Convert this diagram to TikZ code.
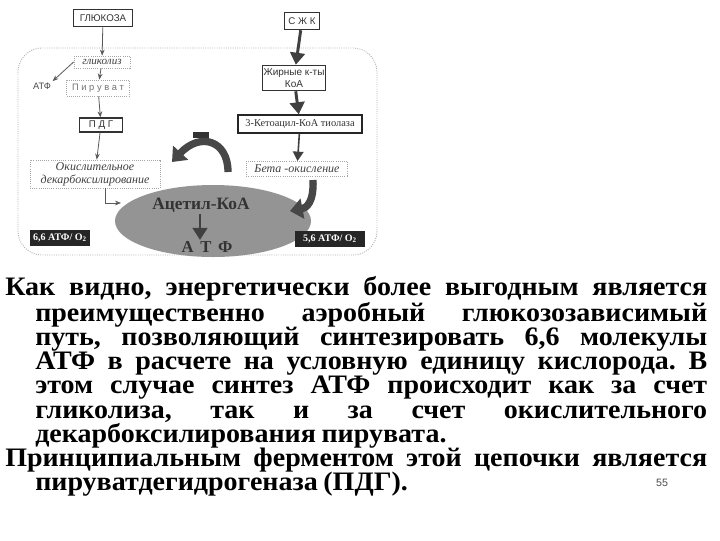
\documentclass[tikz,border=0pt]{standalone}
\usepackage{fontspec}
\setmainfont{Liberation Serif}
\setsansfont{Liberation Sans}
\newfontfamily\parfont[FakeStretch=1.05,WordSpace={0.8,1,1.6}]{Liberation Serif}
\usetikzlibrary{arrows.meta,shapes.geometric}
\frenchspacing
\begin{document}
\begin{tikzpicture}[x=0.75pt,y=-0.75pt,
  sbox/.style={draw=black!80, line width=0.9pt, font=\sffamily\fontsize{7.3}{8.5}\selectfont, inner sep=1pt, align=center, text=black!80},
  dbox/.style={draw=gray!70, densely dotted, line width=0.6pt, inner sep=1pt, align=center},
  itl/.style={font=\itshape\fontsize{8.3}{9}\selectfont, text=black!75},
  blk/.style={fill=black!85, text=white, font=\bfseries\fontsize{7.5}{8}\selectfont, inner sep=1pt},
  arr/.style={-{Stealth[length=4.5pt,width=3.5pt]}, line width=0.6pt, draw=black!65},
  bigarr/.style={-{Triangle[length=7pt,width=8pt]}, line width=1.2pt, draw=black!75},
  fatarr/.style={-{Triangle[length=9pt,width=11pt]}, line width=2.2pt, draw=black!75},
  hook/.style={-{Triangle[length=9.5pt,width=15pt]}, line width=5.5pt, draw=black!72}]
\useasboundingbox (0,0) rectangle (720,540);
\fill[white] (0,0) rectangle (720,540);
% region
\draw[gray!60, densely dotted, line width=0.7pt, rounded corners=18pt] (18,48) rectangle (377,255);
% left column
\node[sbox, minimum width=44pt, minimum height=13pt] (glu) at (103,18) {ГЛЮКОЗА};
\node[dbox, itl, minimum width=42pt, minimum height=9pt] (gly) at (102,62) {гликолиз};
\node[font=\sffamily\fontsize{7}{8}\selectfont, text=black!70, inner sep=1pt] (atf1) at (42,86) {АТФ};
\node[dbox, minimum width=47pt, minimum height=12pt, font=\sffamily\fontsize{7}{8}\selectfont, text=black!55] (pir) at (98,88) {П и р у в а т};
\node[sbox, minimum width=32pt, minimum height=10.5pt] (pdg) at (101,125) {П Д Г};
\node[dbox, itl, minimum width=97.5pt, minimum height=21pt, font=\itshape\fontsize{9}{9.5}\selectfont] (okd) at (95,174) {Окислительное\\декарбоксилирование};
% ellipse
\node[ellipse, fill=black!42, minimum width=147pt, minimum height=54pt, inner sep=0] (acoa) at (213,221) {};
\node[font=\bfseries\fontsize{13}{14}\selectfont, text=black!80, inner sep=1pt] (acet) at (201,205) {Ацетил-КоА};
\node[font=\bfseries\fontsize{12.5}{14}\selectfont, text=black!80, inner sep=1pt] (atf2) at (207,247) {А\hspace{5pt}Т\hspace{5pt}Ф};
\draw[fatarr, line width=1.8pt] (acet.south -| 200,0) -- (atf2.north -| 200,0);
\node[blk, minimum width=45pt, minimum height=11.5pt] (l66) at (60,238) {6,6 АТФ/ O\textsubscript{2}};
\node[blk, minimum width=52pt, minimum height=12pt] (r56) at (330,239) {5,6 АТФ/ O\textsubscript{2}};
% right column
\node[sbox, minimum width=26pt, minimum height=13pt] (szk) at (302,21) {С Ж К};
\node[sbox, minimum width=46.5pt, minimum height=19pt, font=\sffamily\fontsize{7.5}{8.5}\selectfont] (fa) at (294,78) {Жирные к-ты\\КоА};
\node[draw=black!85, line width=1.6pt, minimum width=93pt, minimum height=13pt, inner sep=1pt, font=\fontsize{7.8}{9}\selectfont, text=black!80] (ket) at (300,124) {3-Кетоацил-КоА тиолаза};
\node[dbox, itl, minimum width=76pt, minimum height=11.5pt, font=\itshape\fontsize{9}{10}\selectfont] (beta) at (297,169) {Бета -окисление};
% arrows
\draw[arr] (glu) -- (gly);
\draw[arr] (gly.west) -- (atf1.north east);
\draw[arr] (gly) -- (pir);
\draw[arr] (pir) -- (pdg);
\draw[arr] (pdg) -- (okd);
\coordinate (okdend) at (121,203);
\draw[arr, line width=0.5pt] ([xshift=7.5pt]okd.south) |- (okdend);
\draw[fatarr] (szk) -- (fa);
\draw[fatarr] (fa) -- (ket);
\draw[bigarr] (ket) -- (beta);
% minus and curved arrows
\node[fill=black!80, minimum width=12.5pt, minimum height=4pt, inner sep=0] (minus) at (201,135) {};
\coordinate (cstart) at (228,172);
\coordinate (cend) at (172,162);
\draw[hook] (cstart) .. controls (228,140) and (200,132) .. (cend);
\coordinate (hstart) at (313,180);
\coordinate (hend) at (290,211);
\draw[hook] (hstart) .. controls (314,203) and (306,208) .. (hend);
% paragraph text
\node[anchor=base west, inner sep=0, text width=526.5pt, align=justify,
  font=\parfont\bfseries\fontsize{20}{18.2}\selectfont, text=black] (par) at (5,295)
  {\hyphenpenalty=10000\tolerance=10000\parindent=0pt\frenchspacing
   \hangindent=22.5pt\hangafter=1
   Как видно, энергетически более выгодным является\linebreak
   преимущественно аэробный глюкозозависимый\linebreak
   путь, позволяющий синтезировать 6,6 молекулы\linebreak
   АТФ в расчете на условную единицу кислорода. В\linebreak
   этом случае синтез АТФ происходит как за счет\linebreak
   гликолиза, так и за счет окислительного\linebreak
   декарбоксилирования пирувата.\par
   \hangindent=22.5pt\hangafter=1
   Принципиальным ферментом этой цепочки является\linebreak
   пируватдегидрогеназа (ПДГ).\par};
\node[font=\sffamily\fontsize{8}{9}\selectfont, text=black!70, inner sep=0] (pg) at (662,483) {55};
\end{tikzpicture}
\end{document}
